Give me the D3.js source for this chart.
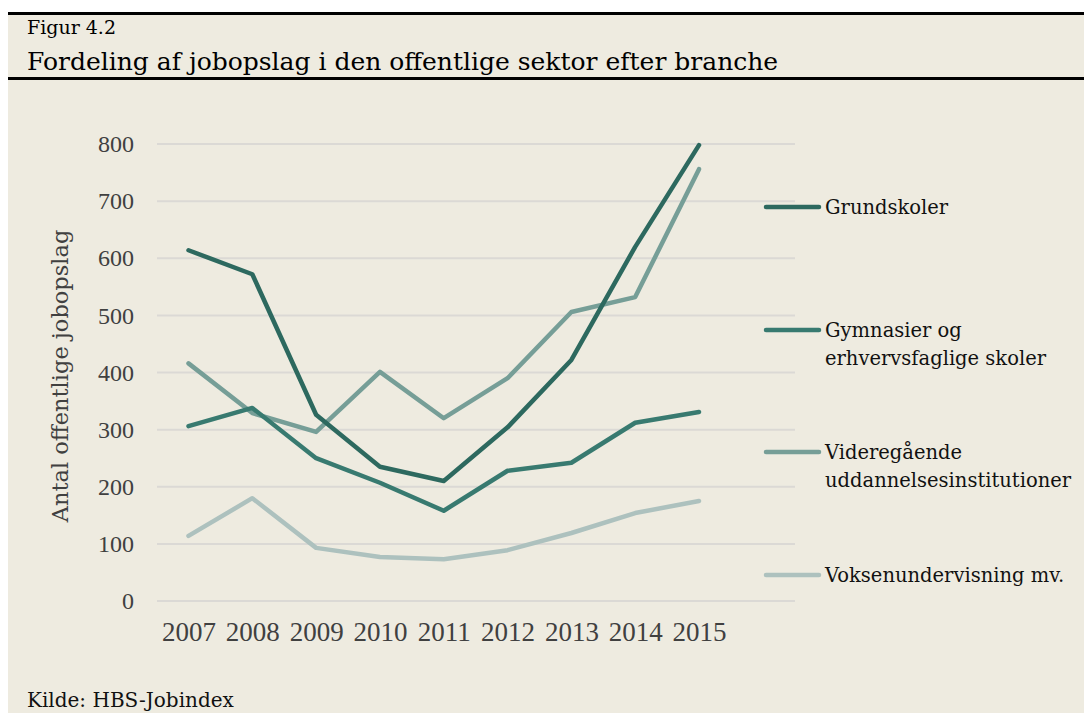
<!DOCTYPE html>
<html>
<head>
<meta charset="utf-8">
<script src="https://cdn.jsdelivr.net/npm/d3@7"></script>
<style>
  body { margin: 0; background: #ffffff; }
  svg { display: block; font-family: "DejaVu Serif", "Liberation Serif", serif; }
</style>
</head>
<body>
<svg id="chart" width="1084" height="713"></svg>
<script>
"use strict";

// years on the x axis
var years = ["2007", "2008", "2009", "2010", "2011", "2012", "2013", "2014", "2015"];

// job postings per sector
var grundskoler = [614, 572, 326, 235, 210, 304, 422, 620, 798];
var gymnasier = [306, 338, 250, 207, 158, 228, 242, 312, 331];
var videregaaende = [416, 329, 296, 401, 320, 390, 506, 532, 756];
var voksen = [114, 180, 93, 77, 73, 89, 119, 154, 175];

var seriesNames = [
  ["Grundskoler"],
  ["Gymnasier og", "erhvervsfaglige skoler"],
  ["Videregående", "uddannelsesinstitutioner"],
  ["Voksenundervisning mv."]
];
var seriesColors = ["#2d695f", "#387a70", "#769e97", "#adc1be"];
var yTicks = [0, 100, 200, 300, 400, 500, 600, 700, 800];

var svg = d3.select("#chart");
var width = +svg.attr("width");
var height = +svg.attr("height");

// beige panel + header rules
svg.append("rect")
  .attr("x", 8).attr("y", 13)
  .attr("width", width - 8).attr("height", height - 13)
  .attr("fill", "#eeebe0");

svg.append("rect").attr("x", 8).attr("y", 12).attr("width", width - 8).attr("height", 3).attr("fill", "#000");
svg.append("rect").attr("x", 8).attr("y", 77).attr("width", width - 8).attr("height", 3).attr("fill", "#000");

svg.append("text")
  .attr("x", 27).attr("y", 34)
  .attr("font-size", 19)
  .attr("fill", "#000")
  .text("Figur 4.2");

svg.append("text")
  .attr("x", 27).attr("y", 70)
  .attr("font-size", 25)
  .attr("fill", "#000")
  .text("Fordeling af jobopslag i den offentlige sektor efter branche");

svg.append("text")
  .attr("x", 27).attr("y", 707)
  .attr("font-size", 20)
  .attr("fill", "#111")
  .text("Kilde: HBS-Jobindex");

// scales
var x = d3.scalePoint()
  .domain(years)
  .range([188.5, 699])

var y = d3.scaleLinear()
  .domain([0, 800])
  .range([601, 144])

// gridlines
svg.append("g")
  .selectAll("line")
  .data(yTicks)
  .enter()
  .append("line")
    .attr("x1", 157)
    .attr("x2", 795)
    .attr("y1", function(d) { return y(d) })
    .attr("y2", function(d) { return y(d) })
    .attr("stroke", "#dbd9d5")
    .attr("stroke-width", 2)

// y axis labels
var yAxis = svg.append("g")
  .attr("transform", "translate(140,0)")
  .call(d3.axisLeft(y).tickValues(yTicks).tickSize(0).tickPadding(6))
yAxis.select(".domain").remove()
yAxis.selectAll("text")
  .attr("font-family", "Liberation Serif, serif")
  .attr("font-size", 24)
  .attr("fill", "#404040")

// x axis labels
var xAxis = svg.append("g")
  .attr("transform", "translate(0,622)")
  .call(d3.axisBottom(x).tickSize(0).tickPadding(0))
xAxis.select(".domain").remove()
xAxis.selectAll("text")
  .attr("font-family", "Liberation Serif, serif")
  .attr("font-size", 27)
  .attr("fill", "#404040")
  .attr("dy", "0.71em")

svg.append("text")
  .attr("transform", "translate(68,376) rotate(-90)")
  .attr("text-anchor", "middle")
  .attr("font-size", 22.5)
  .attr("fill", "#404040")
  .text("Antal offentlige jobopslag")

// lines
var allSeries = [grundskoler, gymnasier, videregaaende, voksen];
var line = d3.line()
  .x(function(d, i) { return x(years[i]) })
  .y(function(d) { return y(d) })

// draw lightest first so the dark ones end on top
svg.append("g")
  .selectAll("path")
  .data(allSeries.map(function(s, i) { return { values: s, color: seriesColors[i] } }).reverse())
  .enter()
  .append("path")
    .attr("d", function(d) { return line(d.values) })
    .attr("fill", "none")
    .attr("stroke", function(d) { return d.color })
    .attr("stroke-width", 4.5)
    .attr("stroke-linecap", "round")
    .attr("stroke-linejoin", "round")

// legend
var legendY = [207, 330, 452, 575];
var legend = svg.append("g")
  .selectAll("g")
  .data(seriesNames)
  .enter()
  .append("g")
    .attr("transform", function(d, i) { return "translate(0," + legendY[i] + ")" })

legend.append("line")
  .attr("x1", 766).attr("x2", 819)
  .attr("y1", 0).attr("y2", 0)
  .attr("stroke", function(d, i) { return seriesColors[i] })
  .attr("stroke-width", 4.5)
  .attr("stroke-linecap", "round")

legend.each(function(d) {
  var t = d3.select(this).append("text")
    .attr("x", 825)
    .attr("y", 7)
    .attr("font-size", 19.5)
    .attr("fill", "#111")
  d.forEach(function(lineText, j) {
    t.append("tspan")
      .attr("x", 825)
      .attr("dy", j === 0 ? 0 : 28)
      .text(lineText)
  })
})
</script>
</body>
</html>
